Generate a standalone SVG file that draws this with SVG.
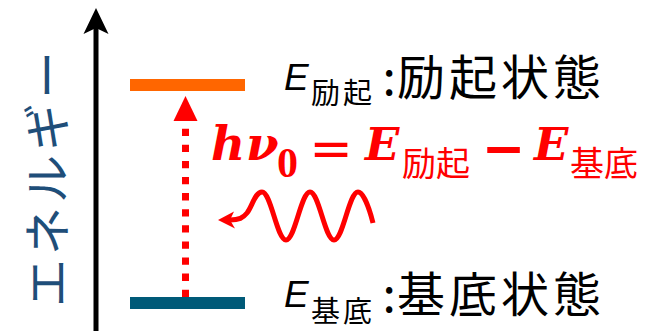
<svg xmlns="http://www.w3.org/2000/svg" width="652" height="331" viewBox="0 0 652 331">
<style>
.jp{font-family:"Noto Sans CJK JP","Noto Sans",sans-serif;}
.lbl{fill:#000;}
.eq{fill:#FF0000;}
.mi{font-family:"DejaVu Serif",serif;font-weight:bold;font-style:italic;}
.op{font-family:"DejaVu Sans",sans-serif;}
.it{font-family:"Liberation Sans",sans-serif;font-style:italic;}
</style>
<rect width="652" height="331" fill="#fff"/>
<g id="axis">
<line x1="96" y1="331" x2="96" y2="26" stroke="#000" stroke-width="5"/>
<polygon points="96,8 108.5,34 96,28 83.5,34" fill="#000"/>
<text class="jp" transform="translate(65,307) rotate(-90)" font-size="48" letter-spacing="4" fill="#1F4E79">エネルギー</text>
</g>
<g id="excited">
<rect x="130" y="79" width="115" height="12" fill="#FF6600"/>
<text class="it lbl" x="284" y="90" font-size="37">E</text>
<text class="jp lbl" x="311" y="104" font-size="29" letter-spacing="3">励起</text>
<text class="jp lbl" x="382.5" y="95" font-size="48">:</text>
<text class="jp lbl" x="397" y="95" font-size="48" letter-spacing="4">励起状態</text>
</g>
<g id="ground">
<rect x="130" y="297" width="115" height="12" fill="#005A78"/>
<text class="it lbl" x="284" y="307" font-size="37">E</text>
<text class="jp lbl" x="311" y="322" font-size="29" letter-spacing="3">基底</text>
<text class="jp lbl" x="382.5" y="312" font-size="48">:</text>
<text class="jp lbl" x="397" y="312" font-size="48" letter-spacing="4">基底状態</text>
</g>
<g id="equation" class="eq">
<text class="mi" x="211" y="160" font-size="47">h</text>
<text class="mi" x="246" y="160" font-size="47">ν</text>
<text x="277" y="177" font-size="42" font-family="Liberation Serif,serif" font-weight="bold">0</text>
<text class="op" x="331" y="166" font-size="52" text-anchor="middle">=</text>
<text class="mi" x="365" y="160" font-size="45">E</text>
<text class="jp" x="402" y="176" font-size="34">励起</text>
<text class="op" x="503.5" y="166" font-size="52" font-weight="bold" text-anchor="middle">−</text>
<text class="mi" x="534" y="160" font-size="45">E</text>
<text class="jp" x="570" y="176" font-size="34">基底</text>
</g>
<g id="connectors">
<line x1="185.5" y1="297" x2="185.5" y2="112" stroke="#FF0000" stroke-width="7" stroke-dasharray="7.3 8.8"/>
<polygon points="185.5,96 197.5,121 173.5,121" fill="#FF0000"/>
<path d="M373,223 C369,207 363,192 358,192 C349,192 343,240 334,240 C325,240 319,192 310,192 C301,192 295,240 286,240 C277,240 271,192 262,192 C255,192 252,207 247,213 C243,218 239,220 230,220" fill="none" stroke="#FF0000" stroke-width="5"/>
<polygon points="218,220 234,211.5 230,220 235,228.5" fill="#FF0000"/>
</g>
</svg>
